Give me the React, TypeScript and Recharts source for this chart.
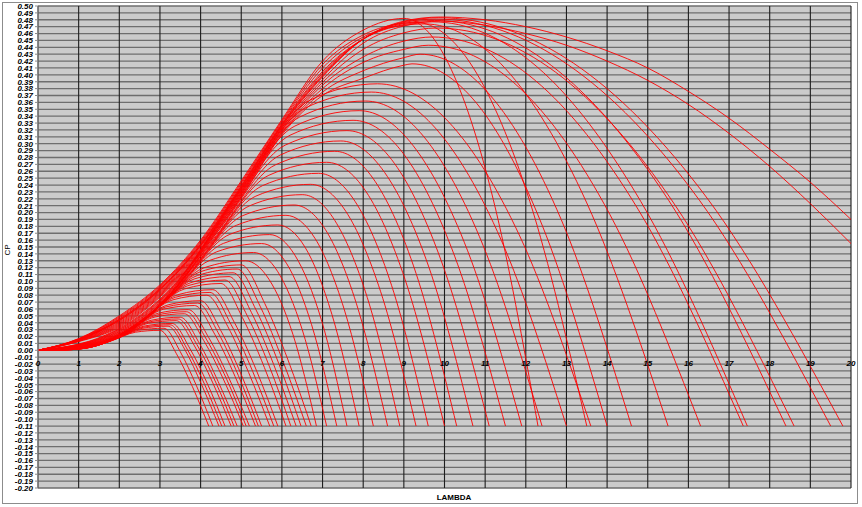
import React from 'react';
import { LineChart, Line, XAxis, YAxis, CartesianGrid } from 'recharts';

type Pt = [number, number];

const LAMBDA_TICKS = [0, 1, 2, 3, 4, 5, 6, 7, 8, 9, 10, 11, 12, 13, 14, 15, 16, 17, 18, 19, 20];
const CP_TICKS = [
  0.5, 0.49, 0.48, 0.47, 0.46, 0.45, 0.44, 0.43, 0.42, 0.41, 0.4, 0.39, 0.38, 0.37, 0.36, 0.35,
  0.34, 0.33, 0.32, 0.31, 0.3, 0.29, 0.28, 0.27, 0.26, 0.25, 0.24, 0.23, 0.22, 0.21, 0.2, 0.19,
  0.18, 0.17, 0.16, 0.15, 0.14, 0.13, 0.12, 0.11, 0.1, 0.09, 0.08, 0.07, 0.06, 0.05, 0.04, 0.03,
  0.02, 0.01, 0, -0.01, -0.02, -0.03, -0.04, -0.05, -0.06, -0.07, -0.08, -0.09, -0.1, -0.11,
  -0.12, -0.13, -0.14, -0.15, -0.16, -0.17, -0.18, -0.19, -0.2,
];

// upper group: curves peaking near 0.41-0.48 around lambda 9-10 (narrow and wide ones crossing)
const topCurves: Pt[][] = [
  [[0, 0], [1, 0.017], [2, 0.05], [3, 0.095], [4, 0.16], [5, 0.246], [6, 0.335], [7, 0.42], [8, 0.465], [9, 0.482], [10.1, 0.416], [11.2, 0.219], [12.3, -0.11]],
  [[0, 0], [1, 0.0166], [2, 0.0485], [3, 0.0934], [4, 0.1582], [5, 0.2438], [6, 0.333], [7, 0.415], [8, 0.458], [9, 0.475], [9.3, 0.476], [10.7, 0.411], [12.1, 0.216], [13.5, -0.11]],
  [[0, 0], [1, 0.0162], [2, 0.047], [3, 0.0918], [4, 0.1564], [5, 0.2416], [6, 0.331], [7, 0.41], [8, 0.455], [9, 0.472], [9.5, 0.474], [11.5, 0.409], [13.5, 0.214], [15.5, -0.11]],
  [[0, 0], [1, 0.0158], [2, 0.0455], [3, 0.0902], [4, 0.1546], [5, 0.2394], [6, 0.329], [7, 0.405], [8, 0.452], [9, 0.473], [9.7, 0.477], [12.27, 0.412], [14.83, 0.216], [17.45, -0.11]],
  [[0, 0], [1, 0.0156], [2, 0.0448], [3, 0.0894], [4, 0.1537], [5, 0.2383], [6, 0.328], [7, 0.4025], [8, 0.452], [9, 0.4745], [9.75, 0.479], [12.63, 0.4136], [15.52, 0.2172], [18.4, -0.11]],
  [[0, 0], [1, 0.0154], [2, 0.044], [3, 0.0886], [4, 0.1528], [5, 0.2372], [6, 0.327], [7, 0.4], [8, 0.452], [9, 0.476], [9.8, 0.481], [13.03, 0.415], [16.27, 0.218], [19.5, -0.11]],
  [[0, 0], [1, 0.0152], [2, 0.0433], [3, 0.0878], [4, 0.1519], [5, 0.2361], [6, 0.326], [7, 0.3985], [8, 0.452], [9, 0.477], [9.85, 0.483], [13.17, 0.4171], [16.48, 0.2194], [19.8, -0.11]],
  [[0, 0], [1, 0.015], [2, 0.0425], [3, 0.087], [4, 0.151], [5, 0.235], [6, 0.325], [7, 0.397], [8, 0.452], [9, 0.478], [9.9, 0.484], [11, 0.48], [12, 0.47], [13, 0.455], [14, 0.435], [15, 0.41], [16, 0.376], [17, 0.337], [18, 0.292], [19, 0.244], [20, 0.19]],
  [[0, 0], [1, 0.0146], [2, 0.041], [3, 0.0854], [4, 0.1492], [5, 0.2328], [6, 0.323], [7, 0.393], [8, 0.446], [9, 0.471], [9.9, 0.478], [11, 0.472], [12, 0.46], [13, 0.443], [14, 0.42], [15, 0.392], [16, 0.357], [17, 0.315], [18, 0.267], [19, 0.213], [20, 0.155]],
  [[0, 0], [1, 0.0142], [2, 0.0395], [3, 0.0838], [4, 0.1474], [5, 0.2306], [6, 0.321], [7, 0.389], [8, 0.437], [9, 0.461], [9.8, 0.468], [12.73, 0.404], [15.67, 0.211], [18.6, -0.11]],
  [[0, 0], [1, 0.0138], [2, 0.038], [3, 0.0822], [4, 0.1456], [5, 0.2284], [6, 0.319], [7, 0.385], [8, 0.426], [9, 0.449], [9.7, 0.455], [12.23, 0.392], [14.77, 0.204], [17.35, -0.11]],
  [[0, 0], [1, 0.0134], [2, 0.0365], [3, 0.0806], [4, 0.1438], [5, 0.2262], [6, 0.317], [7, 0.38], [8, 0.418], [9, 0.437], [9.6, 0.443], [11.83, 0.382], [14.07, 0.197], [16.3, -0.11]],
  [[0, 0], [1, 0.013], [2, 0.035], [3, 0.079], [4, 0.142], [5, 0.224], [6, 0.315], [7, 0.375], [8, 0.406], [9, 0.425], [9.4, 0.43], [11.13, 0.37], [12.87, 0.19], [14.6, -0.11]],
  [[0, 0], [1, 0.0126], [2, 0.0335], [3, 0.0774], [4, 0.1402], [5, 0.2218], [6, 0.313], [7, 0.37], [8, 0.395], [9, 0.414], [9.2, 0.416], [10.8, 0.358], [12.4, 0.182], [14, -0.11]],
];

// middle group: nested arcs with peaks moving down and left
const midCurves: Pt[][] = [
  [[0, 0], [1.67, 0.0223], [3.34, 0.0944], [5.01, 0.2357], [6.68, 0.363], [8.35, 0.387], [10.1, 0.3318], [11.85, 0.1661], [13.6, -0.11]],
  [[0, 0], [1.64, 0.0206], [3.28, 0.0893], [4.92, 0.2265], [6.56, 0.3514], [8.2, 0.375], [9.8, 0.3211], [11.4, 0.1594], [13, -0.11]],
  [[0, 0], [1.61, 0.019], [3.22, 0.0843], [4.83, 0.2168], [6.44, 0.3388], [8.05, 0.362], [9.5, 0.3096], [10.95, 0.1522], [12.4, -0.11]],
  [[0, 0], [1.58, 0.0174], [3.16, 0.079], [4.74, 0.2071], [6.32, 0.3257], [7.9, 0.348], [9.23, 0.2971], [10.57, 0.1444], [11.9, -0.11]],
  [[0, 0], [1.55, 0.016], [3.1, 0.0741], [4.65, 0.1971], [6.2, 0.3123], [7.75, 0.334], [9, 0.2847], [10.25, 0.1367], [11.5, -0.11]],
  [[0, 0], [1.52, 0.0146], [3.04, 0.0692], [4.56, 0.1866], [6.08, 0.2979], [7.6, 0.319], [8.77, 0.2713], [9.93, 0.1283], [11.1, -0.11]],
  [[0, 0], [1.49, 0.0133], [2.98, 0.0644], [4.47, 0.1763], [5.96, 0.2836], [7.45, 0.304], [8.53, 0.258], [9.62, 0.12], [10.7, -0.11]],
  [[0, 0], [1.46, 0.0121], [2.92, 0.0601], [4.38, 0.1665], [5.84, 0.2693], [7.3, 0.289], [8.3, 0.2447], [9.3, 0.1117], [10.3, -0.11]],
  [[0, 0], [1.42, 0.0109], [2.84, 0.0554], [4.26, 0.1559], [5.68, 0.2542], [7.1, 0.273], [8.07, 0.2304], [9.03, 0.1028], [10, -0.11]],
  [[0, 0], [1.38, 0.0098], [2.76, 0.0509], [4.14, 0.1457], [5.52, 0.239], [6.9, 0.257], [7.8, 0.2162], [8.7, 0.0939], [9.6, -0.11]],
  [[0, 0], [1.34, 0.0087], [2.68, 0.0468], [4.02, 0.1354], [5.36, 0.2239], [6.7, 0.241], [7.57, 0.202], [8.43, 0.085], [9.3, -0.11]],
  [[0, 0], [1.3, 0.0078], [2.6, 0.0429], [3.9, 0.1261], [5.2, 0.2097], [6.5, 0.226], [7.3, 0.1887], [8.1, 0.0767], [8.9, -0.11]],
  [[0, 0], [1.26, 0.007], [2.52, 0.039], [3.78, 0.1167], [5.04, 0.1956], [6.3, 0.211], [7.07, 0.1753], [7.83, 0.0683], [8.6, -0.11]],
  [[0, 0], [1.22, 0.0062], [2.44, 0.0355], [3.66, 0.1076], [4.88, 0.1815], [6.1, 0.196], [6.82, 0.162], [7.53, 0.06], [8.25, -0.11]],
  [[0, 0], [1.18, 0.0055], [2.36, 0.0322], [3.54, 0.099], [4.72, 0.1684], [5.9, 0.182], [6.57, 0.1496], [7.23, 0.0522], [7.9, -0.11]],
  [[0, 0], [1.14, 0.0048], [2.28, 0.0291], [3.42, 0.0907], [4.56, 0.1552], [5.7, 0.168], [6.33, 0.1371], [6.97, 0.0444], [7.6, -0.11]],
  [[0, 0], [1.1, 0.0043], [2.2, 0.0262], [3.3, 0.0831], [4.4, 0.1431], [5.5, 0.155], [6.12, 0.1256], [6.73, 0.0372], [7.35, -0.11]],
  [[0, 0], [1.06, 0.0037], [2.12, 0.0234], [3.18, 0.0754], [4.24, 0.1309], [5.3, 0.142], [5.9, 0.114], [6.5, 0.03], [7.1, -0.11]],
  [[0, 0], [1.02, 0.0033], [2.04, 0.0211], [3.06, 0.0685], [4.08, 0.1197], [5.1, 0.13], [5.68, 0.1033], [6.27, 0.0233], [6.85, -0.11]],
];

// lower group: small curves that fold back to -0.11 between lambda 4.2 and 6.7
const lowCurves: Pt[][] = [
  [[0, 0], [1, 0.0031], [2, 0.0199], [3, 0.0651], [4, 0.1142], [5, 0.124], [5.58, 0.0678], [6.15, -0.014], [6.72, -0.11]],
  [[0, 0], [0.98, 0.0028], [1.96, 0.0186], [2.94, 0.0617], [3.92, 0.1086], [4.9, 0.118], [5.47, 0.0633], [6.03, -0.0165], [6.6, -0.11]],
  [[0, 0], [0.96, 0.0027], [1.92, 0.0176], [2.88, 0.0586], [3.84, 0.1035], [4.8, 0.1125], [5.36, 0.0591], [5.92, -0.0188], [6.47, -0.11]],
  [[0, 0], [0.94, 0.0025], [1.88, 0.0165], [2.82, 0.0555], [3.76, 0.0983], [4.7, 0.107], [5.25, 0.0549], [5.8, -0.021], [6.35, -0.11]],
  [[0, 0], [0.92, 0.0023], [1.84, 0.0156], [2.76, 0.0528], [3.68, 0.0937], [4.6, 0.102], [5.14, 0.0511], [5.69, -0.0231], [6.22, -0.11]],
  [[0, 0], [0.9, 0.0021], [1.8, 0.0146], [2.7, 0.05], [3.6, 0.089], [4.5, 0.097], [5.03, 0.0473], [5.57, -0.0251], [6.1, -0.11]],
  [[0, 0], [0.86, 0.0018], [1.72, 0.013], [2.58, 0.045], [3.44, 0.0807], [4.3, 0.088], [4.83, 0.0405], [5.37, -0.0288], [5.9, -0.11]],
  [[0, 0], [0.85, 0.0017], [1.69, 0.0123], [2.54, 0.0428], [3.38, 0.077], [4.23, 0.084], [4.75, 0.0374], [5.28, -0.0305], [5.8, -0.11]],
  [[0, 0], [0.83, 0.0016], [1.66, 0.0115], [2.49, 0.0406], [3.32, 0.0733], [4.15, 0.08], [4.67, 0.0344], [5.18, -0.0321], [5.7, -0.11]],
  [[0, 0], [0.8, 0.0014], [1.6, 0.0102], [2.4, 0.0362], [3.2, 0.066], [4, 0.072], [4.5, 0.0283], [5, -0.0354], [5.5, -0.11]],
  [[0, 0], [0.79, 0.0013], [1.57, 0.0096], [2.36, 0.0343], [3.14, 0.0628], [3.93, 0.0685], [4.43, 0.0257], [4.93, -0.0368], [5.42, -0.11]],
  [[0, 0], [0.77, 0.0012], [1.54, 0.009], [2.31, 0.0324], [3.08, 0.0595], [3.85, 0.065], [4.35, 0.023], [4.85, -0.0383], [5.35, -0.11]],
  [[0, 0], [0.74, 0.001], [1.48, 0.008], [2.22, 0.0292], [2.96, 0.0539], [3.7, 0.059], [4.2, 0.0184], [4.7, -0.0407], [5.2, -0.11]],
  [[0, 0], [0.73, 0.001], [1.46, 0.0075], [2.19, 0.0276], [2.92, 0.0511], [3.65, 0.056], [4.14, 0.0162], [4.64, -0.0419], [5.12, -0.11]],
  [[0, 0], [0.72, 0.0009], [1.44, 0.007], [2.16, 0.026], [2.88, 0.0484], [3.6, 0.053], [4.08, 0.0139], [4.57, -0.0432], [5.05, -0.11]],
  [[0, 0], [0.7, 0.0008], [1.4, 0.0062], [2.1, 0.0234], [2.8, 0.0438], [3.5, 0.048], [3.97, 0.0101], [4.43, -0.0452], [4.9, -0.11]],
  [[0, 0], [0.69, 0.0007], [1.38, 0.0058], [2.07, 0.0221], [2.76, 0.0415], [3.45, 0.0455], [3.91, 0.0082], [4.37, -0.0462], [4.82, -0.11]],
  [[0, 0], [0.68, 0.0006], [1.36, 0.0054], [2.04, 0.0208], [2.72, 0.0392], [3.4, 0.043], [3.85, 0.0063], [4.3, -0.0473], [4.75, -0.11]],
  [[0, 0], [0.66, 0.0006], [1.32, 0.0048], [1.98, 0.0187], [2.64, 0.0355], [3.3, 0.039], [3.73, 0.0032], [4.17, -0.0489], [4.6, -0.11]],
  [[0, 0], [0.65, 0.0005], [1.3, 0.0045], [1.95, 0.0176], [2.6, 0.0336], [3.25, 0.037], [3.67, 0.0017], [4.1, -0.0497], [4.52, -0.11]],
  [[0, 0], [0.64, 0.0005], [1.28, 0.0042], [1.92, 0.0166], [2.56, 0.0318], [3.2, 0.035], [3.62, 0.0002], [4.03, -0.0506], [4.45, -0.11]],
  [[0, 0], [0.62, 0.0004], [1.24, 0.0038], [1.86, 0.0151], [2.48, 0.0291], [3.1, 0.032], [3.5, -0.0021], [3.9, -0.0518], [4.3, -0.11]],
  [[0, 0], [0.6, 0.0004], [1.2, 0.0033], [1.8, 0.0136], [2.4, 0.0263], [3, 0.029], [3.4, -0.0044], [3.8, -0.053], [4.2, -0.11]],
];

const allCurves = [...topCurves, ...midCurves, ...lowCurves].map((c) =>
  c.map(([x, cp]) => ({ x, cp }))
);

const W = 862;
const H = 507;
const PLOT_LEFT = 38;
const PLOT_TOP = 6;
const PLOT_RIGHT = 851;
const PLOT_BOTTOM = 488;
const CP_MAX = 0.5;
const CP_MIN = -0.2;
const ZERO_Y = PLOT_TOP + ((PLOT_BOTTOM - PLOT_TOP) * CP_MAX) / (CP_MAX - CP_MIN);
const FONT = '"Liberation Sans", Arial, sans-serif';

const renderXTick = (props: any) => {
  const { x, payload, index } = props;
  return (
    <text
      key={`xt-${index}`}
      x={x}
      y={ZERO_Y + 16}
      textAnchor="middle"
      fontSize={8}
      fontWeight="bold"
      fontStyle="italic"
      fontFamily={FONT}
      fill="#000"
    >
      {payload.value}
    </text>
  );
};

export default function App() {
  return (
    <div style={{ position: 'absolute', left: 0, top: 0, width: W, height: H, background: '#fff', fontFamily: FONT }}>
      <div
        style={{
          position: 'absolute',
          left: 2,
          top: 2,
          width: 856,
          height: 502,
          border: '1.5px solid #8c8c8c',
          boxSizing: 'border-box',
        }}
      />
      <div style={{ position: 'absolute', left: 0, top: 0 }}>
        <LineChart
          width={W}
          height={H}
          margin={{ top: PLOT_TOP, right: W - PLOT_RIGHT, bottom: 0, left: 0 }}
        >
          <CartesianGrid
            vertical={false}
            horizontal={true}
            fill="#cbcbcb"
            stroke="#6e6e6e"
            strokeWidth={1.3}
          />
          <CartesianGrid vertical={true} horizontal={false} stroke="#1e1e1e" strokeWidth={1.1} />
          <XAxis
            type="number"
            dataKey="x"
            domain={[0, 20]}
            ticks={LAMBDA_TICKS}
            interval={0}
            height={H - PLOT_BOTTOM}
            axisLine={false}
            tickLine={false}
            tick={renderXTick}
            allowDataOverflow
          />
          <YAxis
            type="number"
            domain={[CP_MIN, CP_MAX]}
            ticks={CP_TICKS}
            interval={0}
            width={PLOT_LEFT}
            tickSize={3}
            tickMargin={2}
            axisLine={{ stroke: '#8a8a8a' }}
            tickLine={{ stroke: '#8a8a8a' }}
            tickFormatter={(v: number) => v.toFixed(2)}
            tick={{ fontSize: 8, fontWeight: 'bold', fontStyle: 'italic', fill: '#000', fontFamily: FONT }}
            allowDataOverflow
          />
          {allCurves.map((d, i) => (
            <Line
              key={i}
              data={d}
              dataKey="cp"
              type="monotone"
              stroke="#ff0000"
              strokeWidth={0.9}
              dot={false}
              activeDot={false}
              isAnimationActive={false}
              legendType="none"
            />
          ))}
        </LineChart>
      </div>
      <div
        style={{
          position: 'absolute',
          left: 7,
          top: 250,
          transform: 'translate(-50%, -50%) rotate(-90deg)',
          fontSize: 8,
          color: '#000',
          whiteSpace: 'nowrap',
        }}
      >
        CP
      </div>
      <div
        style={{
          position: 'absolute',
          left: 454,
          top: 497,
          transform: 'translate(-50%, -50%)',
          fontSize: 8,
          fontWeight: 'bold',
          color: '#000',
          whiteSpace: 'nowrap',
        }}
      >
        LAMBDA
      </div>
    </div>
  );
}
